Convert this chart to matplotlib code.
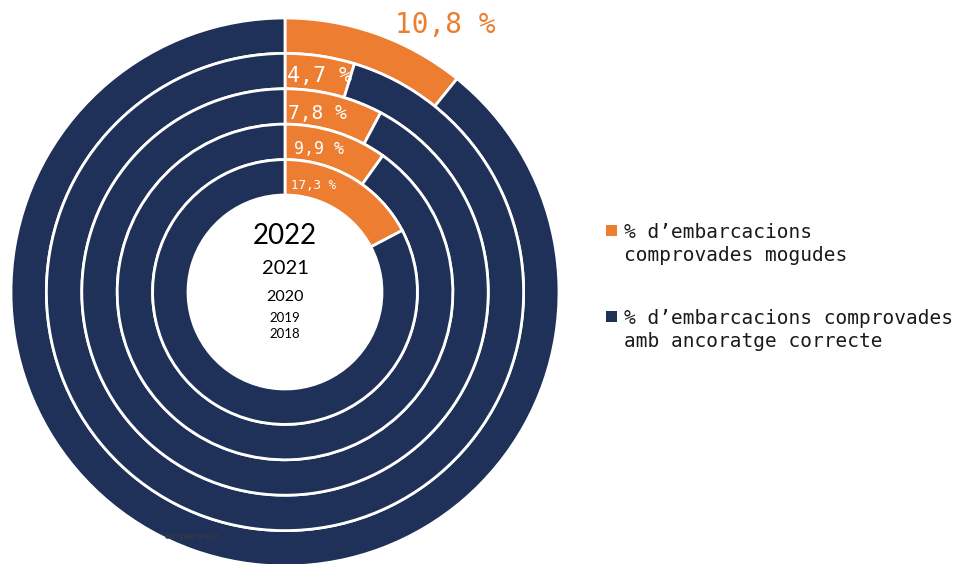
import matplotlib.pyplot as plt
from matplotlib.patches import Rectangle

# data
years = ['2022', '2021', '2020', '2019', '2018']
moved = [10.8, 4.7, 7.8, 9.9, 17.3]
correct = [89.2, 95.3, 92.2, 90.1, 82.7]
labels = ['% d\u2019embarcacions\ncomprovades mogudes',
          '% d\u2019embarcacions comprovades\namb ancoratge correcte']

orange = '#ED7D31'
navy = '#1F3159'
W, H = 959, 564
cx, cy = 285, H - 292
r_out = 274
ring_w = 35.4

fig = plt.figure(figsize=(W / 100, H / 100), dpi=100)
ax = fig.add_axes([0, 0, 1, 1])

for i in range(len(years)):
    r = r_out - i * ring_w
    ax.pie([moved[i], correct[i]], radius=r, center=(cx, cy),
           startangle=90, counterclock=False, colors=[orange, navy],
           wedgeprops=dict(width=ring_w, edgecolor='white', linewidth=2))

ax.set_xlim(0, W)
ax.set_ylim(0, H)
ax.axis('off')

def fmt(v):
    return f'{v:.1f}'.replace('.', ',') + ' %'

# percentage labels
pct_sizes = [20, 15.5, 14, 12, 9]
pct_dx = [110, 2, 3, 9, 6]
pct_dy = [0, -5, -7, -7, -8]
mono = 'DejaVu Sans Mono'
for i, v in enumerate(moved):
    rmid = r_out - i * ring_w - ring_w / 2
    if i == 0:
        ax.text(cx + pct_dx[i], H - 25, fmt(v), color=orange, fontsize=pct_sizes[i],
                family=mono, ha='left', va='center')
    else:
        ax.text(cx + pct_dx[i], cy + rmid + pct_dy[i], fmt(v), color='white',
                fontsize=pct_sizes[i], family=mono, ha='left', va='center')

# year labels in the hole
year_sizes = [20, 14.5, 11.5, 9.5, 9.5]
year_y = [236, 269, 297, 318, 334]
for yr, fs, yy in zip(years, year_sizes, year_y):
    ax.text(cx, H - yy, yr, fontsize=fs, family='Lato', ha='center', va='center', color='black')

# legend
for col, lab, ty in zip([orange, navy], labels, [225, 311]):
    ax.add_patch(Rectangle((606, H - ty - 11), 11, 11, color=col, lw=0))
    ax.text(624, H - ty + 2, lab, fontsize=14, family=mono, ha='left', va='top',
            color='#1a1a1a', linespacing=1.25)

ax.text(165, H - 537, '&!"()&%%)*', fontsize=6, family='DejaVu Serif',
        color='#3a3a3a', ha='left', va='center', fontweight='bold')

fig.savefig('out.png', dpi=100)
